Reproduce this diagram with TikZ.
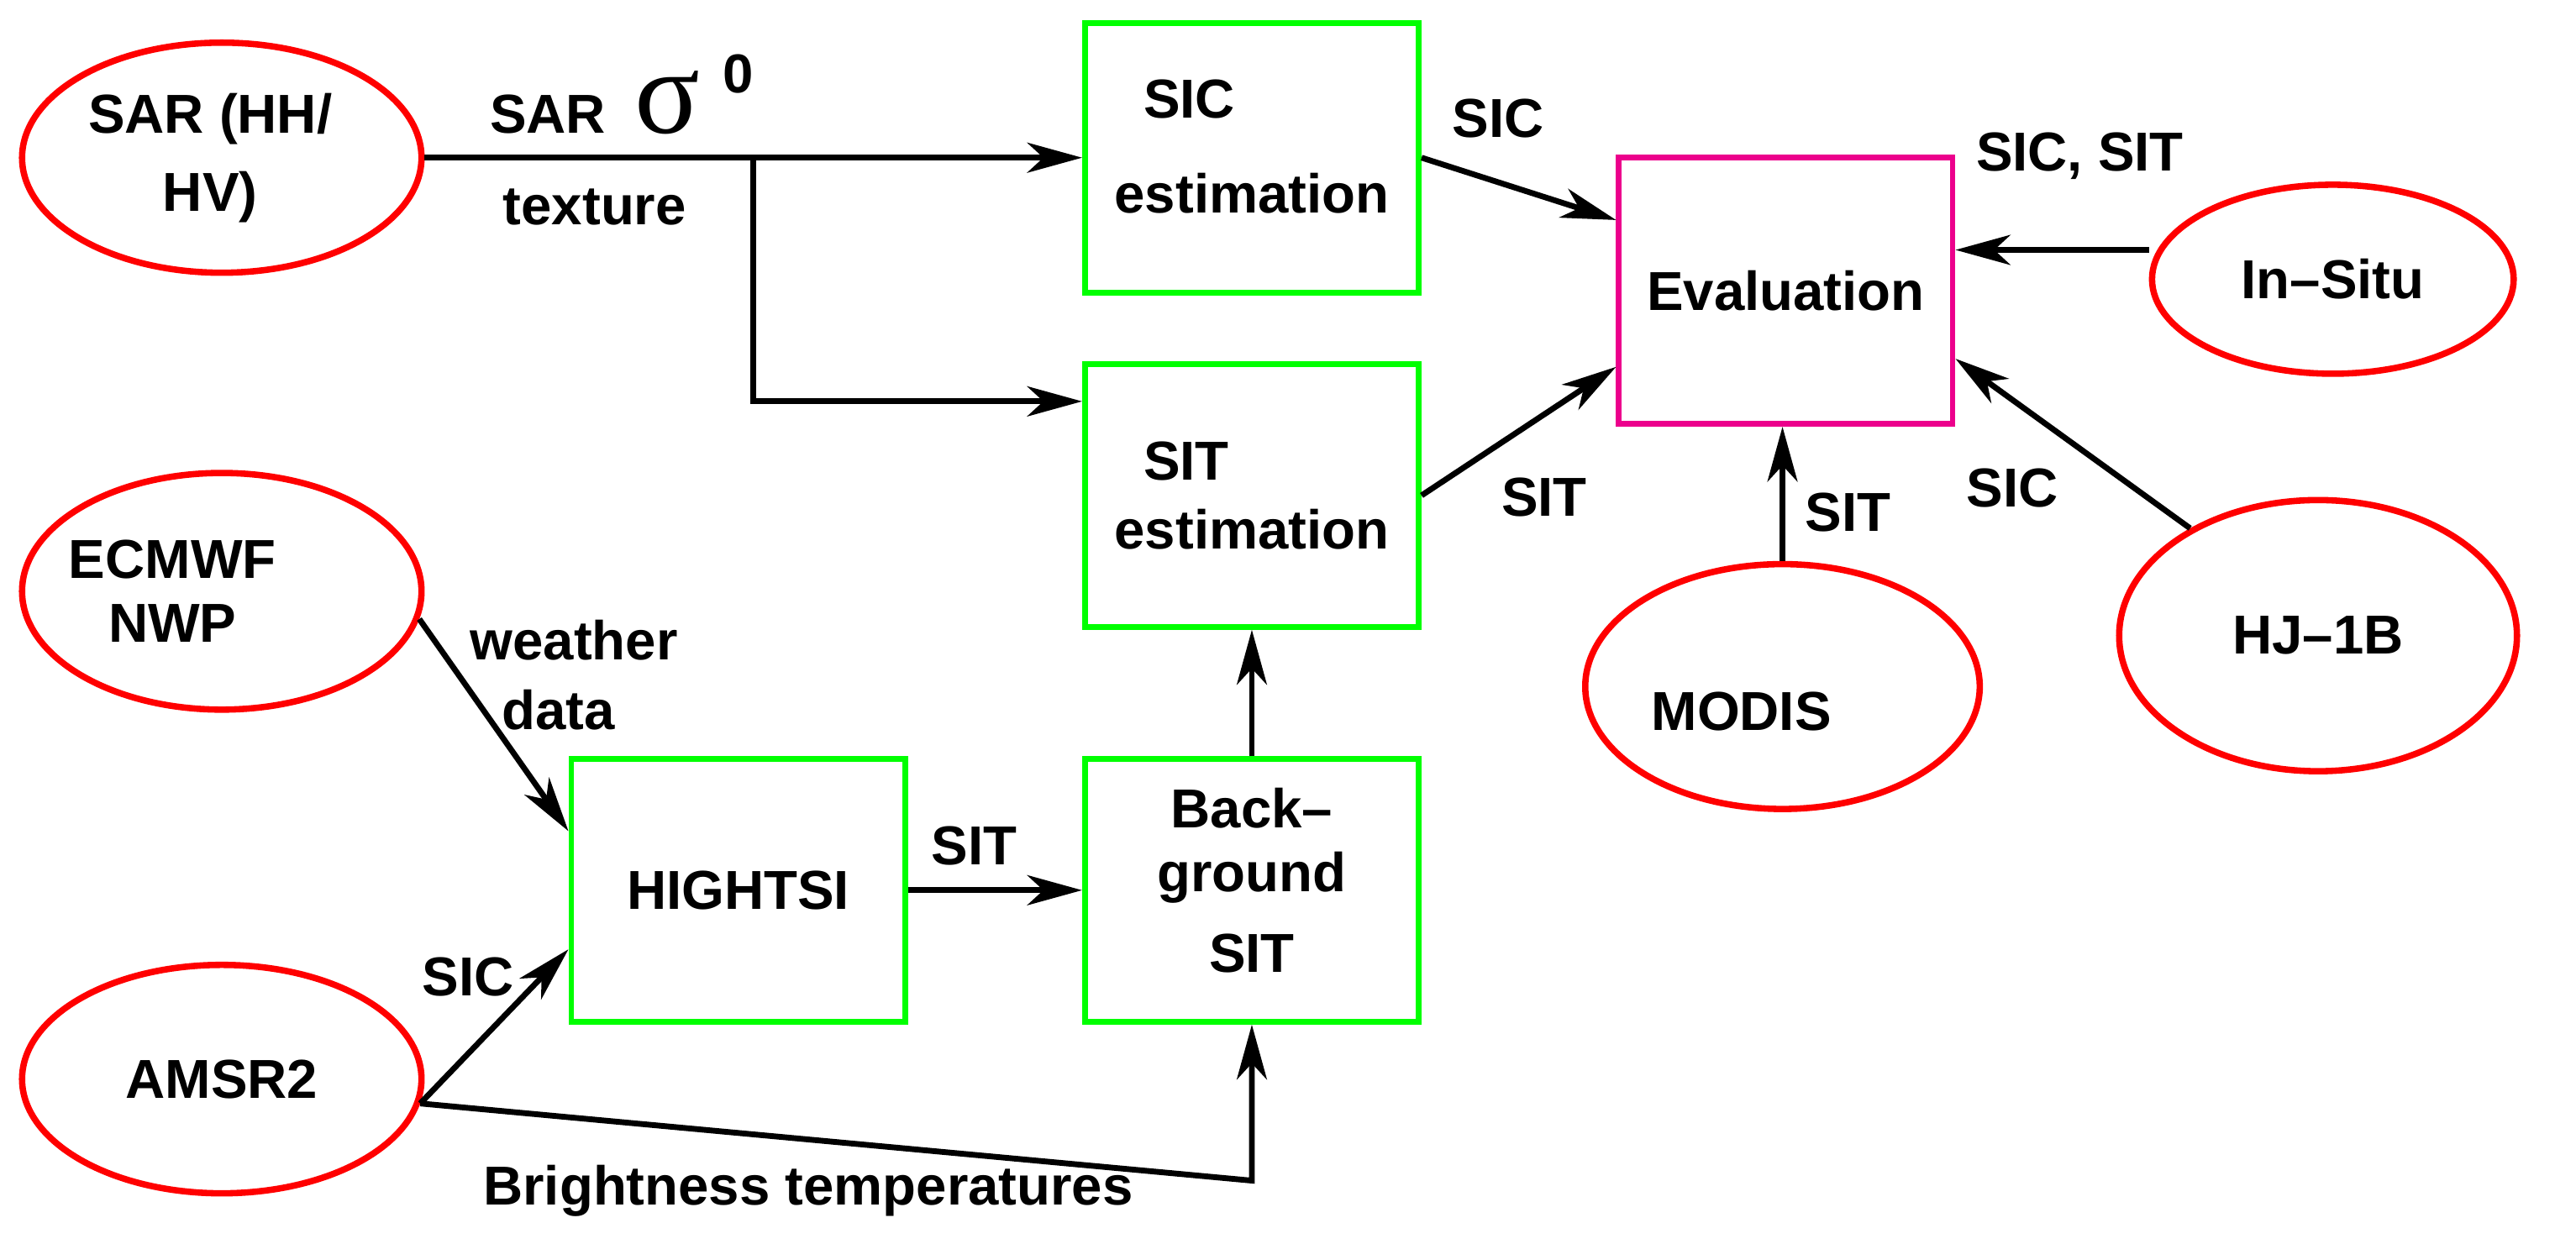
\documentclass[tikz,border=0pt]{standalone}
\usepackage{fontspec}
\setmainfont{Liberation Sans}
\newfontfamily\greekfont{Liberation Serif}
\usetikzlibrary{positioning,arrows.meta,calc,shapes.geometric}

\begin{document}
\begin{tikzpicture}[
  x=0.01cm, y=-0.01cm,
  node distance=4mm,
  every node/.style={font=\fontsize{9.5}{12}\selectfont\bfseries},
  every label/.style={align=center, inner sep=0pt},
  src/.style={ellipse, draw=red, line width=1.1pt, minimum width=2.43cm, minimum height=1.4cm, inner sep=0pt, align=center},
  proc/.style={draw=green, line width=1pt, minimum width=2.03cm, minimum height=1.6cm, inner sep=0pt, align=center},
  evalbox/.style={proc, draw=magenta, minimum height=1.62cm},
  lbl/.style={inner sep=1pt, align=center},
  flow/.style={->, line width=1pt},
  >={Stealth[length=9.5pt,width=5.2pt,inset=2.8pt]}
]
\useasboundingbox (0,0) rectangle (1568,757);

% sources
\node[src] (sar) at (135,96) {SAR (HH/\hspace*{4pt}\\[1.5pt]HV)\hspace*{4pt}};
\node[src, minimum height=1.44cm, label={[xshift=-0.3cm]center:ECMWF\\[-1pt]NWP}] (ecmwf) at (135,360) {};
\node[src, minimum height=1.39cm] (amsr) at (135,657) {AMSR2};

% processing
\node[proc, minimum height=1.64cm, align=left] (sic) at (762,96) {\hspace*{5pt}SIC\\[4.5pt]estimation\\[-8pt]};
\node[proc, below=4mm of sic, align=left] (sit) {\hspace*{5pt}SIT\\estimation};
\node[proc] (bg) at (762,542) {Back--\\[-1pt]ground\\[2pt]SIT\\[-8.5pt]};
\node[proc, left=10.6mm of bg] (hts) {HIGHTSI};

% evaluation and validation data
\node[evalbox] (eval) at (1087,177) {Evaluation};
\node[src, minimum width=2.2cm, minimum height=1.15cm] (insitu) at (1420,170) {In--Situ};
\node[src, minimum width=2.42cm, minimum height=1.65cm] (hj) at (1411,387) {HJ--1B};
\node[src, minimum width=2.4cm, minimum height=1.49cm, label={[xshift=-0.25cm, yshift=-0.15cm]center:MODIS}] (modis) at (1085,418) {};

% SAR branch
\coordinate (br) at ($(sar.east)!0.5!(sic.west)$);
\draw[flow] (sar.east) -- (sic.west);
\draw[flow] (br) |- ($(sit.north west)!0.15!(sit.south west)$);
\node[lbl, anchor=base west] (sarsig) at (294,81) {SAR\hspace{5pt}{\greekfont\mdseries\fontsize{21}{21}\selectfont σ}\hspace{4pt}\raisebox{7pt}{0}};
\node[lbl] (tex) at (362,126) {texture};

% into evaluation
\draw[flow] (sic.east) -- ($(eval.north west)!0.24!(eval.south west)$);
\draw[flow] (sit.east) -- ($(eval.north west)!0.78!(eval.south west)$);
\coordinate (e1) at ($(eval.north east)!0.35!(eval.south east)$);
\draw[flow] (e1 -| insitu.west) -- (e1);
\draw[flow] (hj.140) -- ($(eval.north east)!0.75!(eval.south east)$);
\draw[flow] (modis.north) -- (modis.north |- eval.south);
\node[lbl] (l1) at (912,72) {SIC};
\node[lbl] (l2) at (940,303) {SIT};
\node[lbl] (l3) at (1266,95) {SIC, SIT};
\node[lbl] (l4) at (1225,297) {SIC};
\node[lbl] (l5) at (1125,312) {SIT};

% model chain
\draw[flow] (ecmwf.-8) -- ($(hts.north west)!0.28!(hts.south west)$);
\draw[flow] (amsr.-7) -- ($(hts.north west)!0.72!(hts.south west)$);
\draw[flow] (hts) -- (bg);
\draw[flow] (bg) -- (sit);
\coordinate (bt) at ($(bg.south)+(0,95)$);
\draw[flow] (amsr.-7) -- (bt) -- (bg.south);
\node[lbl, anchor=west, align=left] (l6) at (282,411) {weather\\[0.2pt]\hspace*{5.5pt}data};
\node[lbl] (l7) at (285,595) {SIC};
\node[lbl] (l8) at (593,515) {SIT};
\node[lbl] (l9) at (492,725) {Brightness temperatures};
\end{tikzpicture}
\end{document}
